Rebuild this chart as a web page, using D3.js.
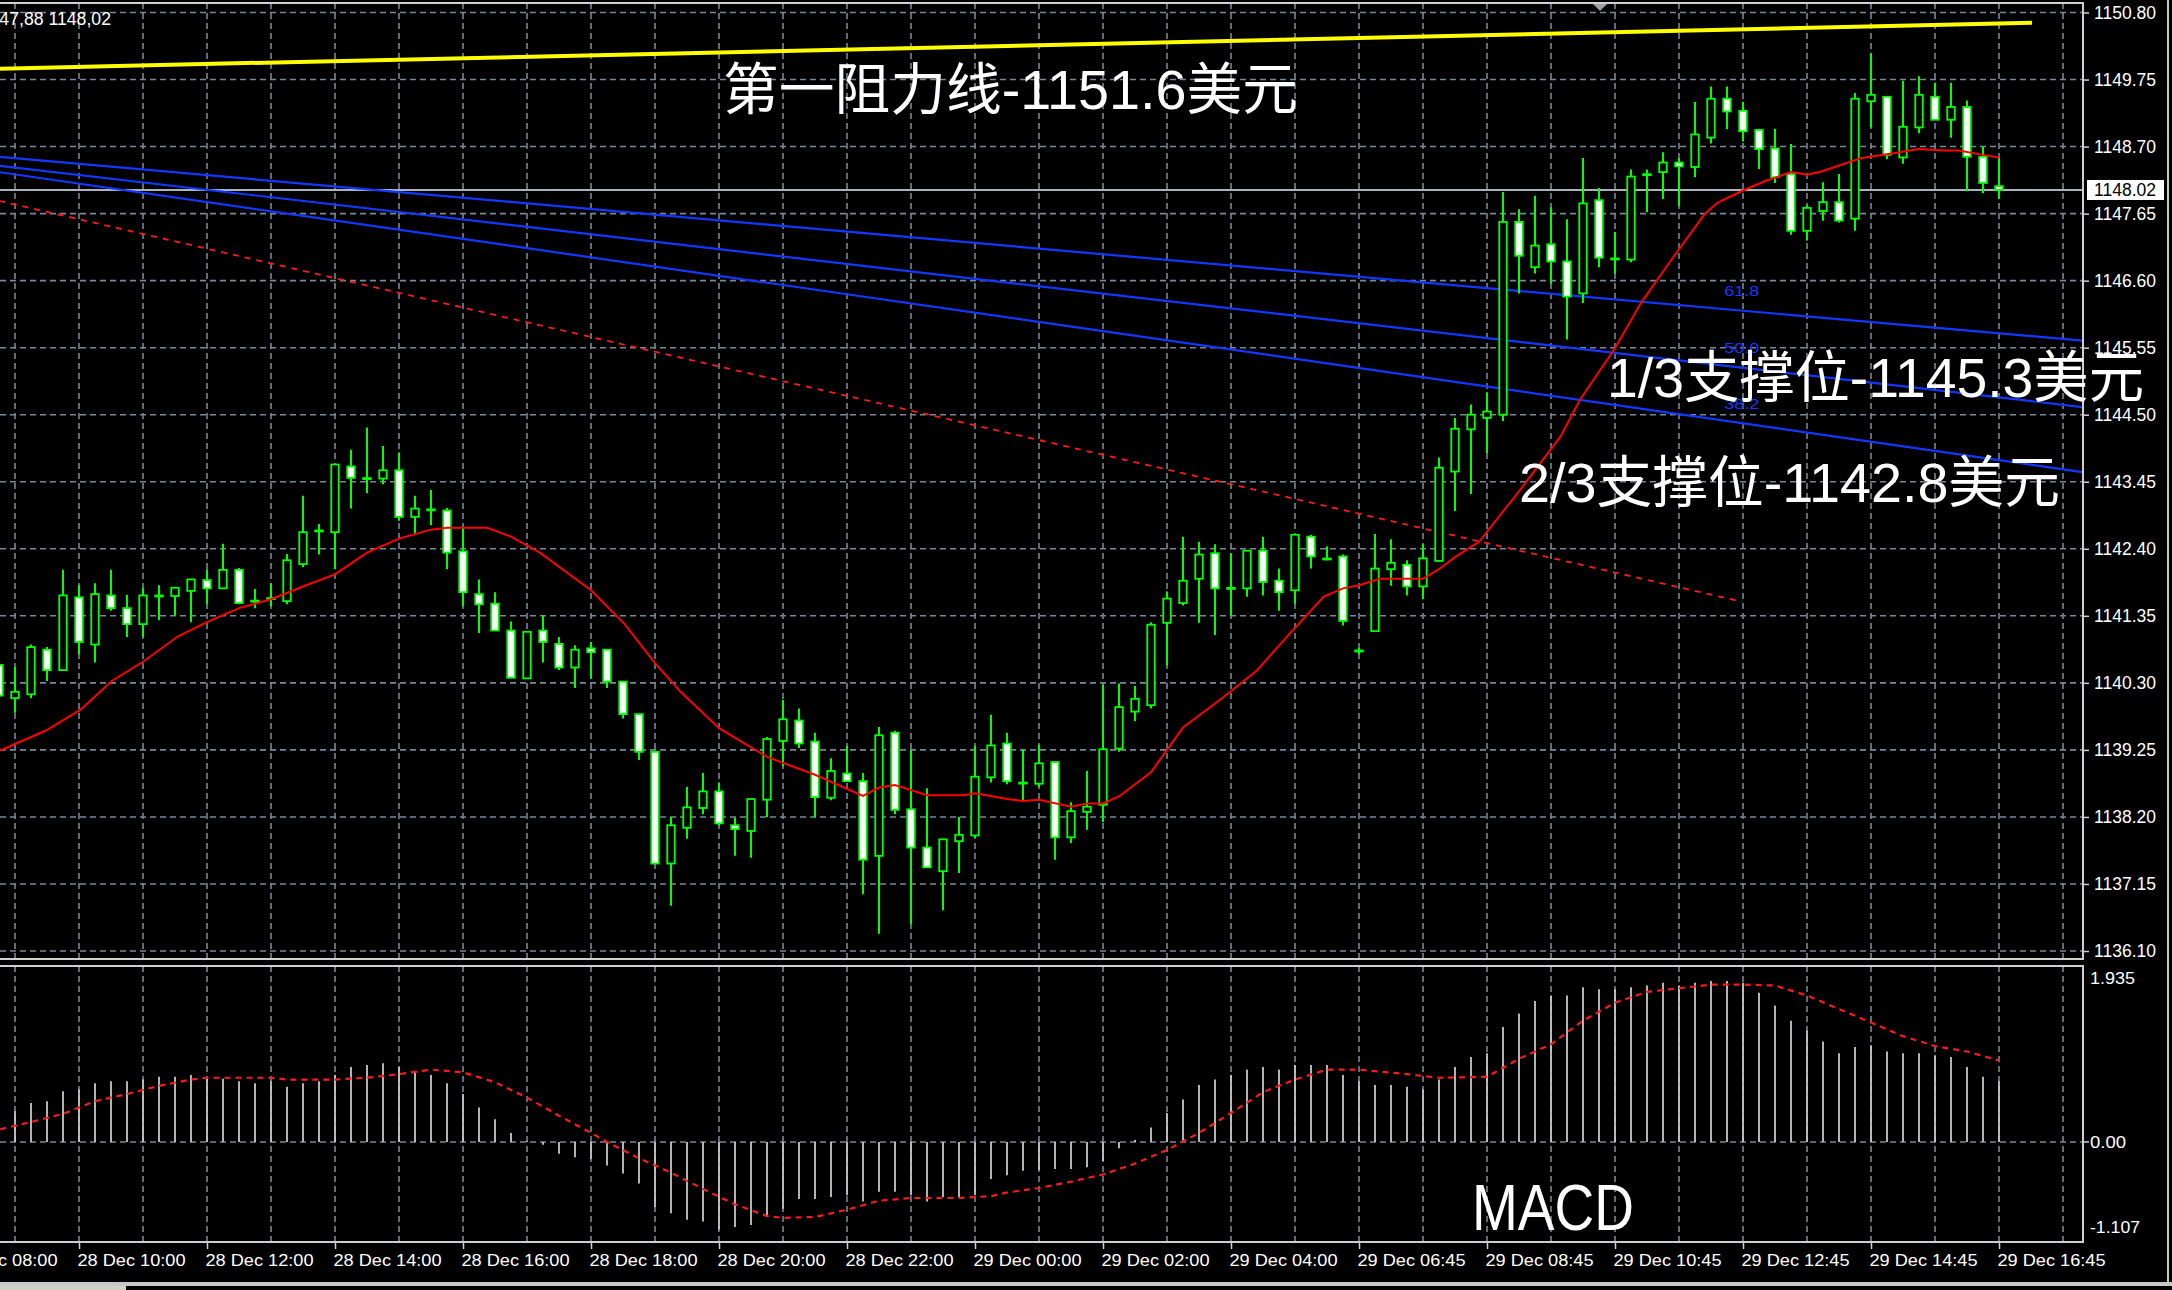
<!DOCTYPE html>
<html><head><meta charset="utf-8">
<script src="https://cdn.jsdelivr.net/npm/d3@7"></script>
<style>
html,body{margin:0;padding:0;background:#000;overflow:hidden;}
svg{display:block;}
</style></head><body>
<svg id="c" width="2172" height="1290"></svg>
<script>
// ---------- DATA ----------
const opens=[1140.58,1140.06,1140.12,1140.82,1140.50,1141.64,1140.90,1141.67,1141.47,1141.22,
1141.68,1141.66,1141.74,1141.91,1141.78,1142.07,1141.59,1141.63,1141.58,1142.16,
1142.69,1142.66,1143.69,1143.51,1143.50,1143.63,1142.90,1143.03,1143.00,1142.36,
1141.69,1141.54,1141.12,1140.37,1141.12,1140.91,1140.54,1140.84,1140.82,1140.32,
1139.81,1139.22,1137.47,1138.03,1138.34,1138.60,1138.07,1137.98,1138.47,1139.39,
1139.71,1139.38,1138.50,1138.88,1138.76,1137.59,1139.52,1138.32,1137.72,1137.35,
1137.82,1137.91,1138.82,1139.35,1138.74,1138.72,1139.06,1137.88,1138.28,1138.39,
1139.27,1139.85,1139.95,1141.24,1141.55,1141.93,1142.33,1141.77,1141.78,1142.37,
1141.90,1141.75,1142.59,1142.24,1142.28,1140.80,1141.11,1142.08,1142.15,1141.81,
1142.21,1143.61,1144.27,1144.45,1144.50,1147.52,1146.81,1147.17,1146.90,1146.40,
1147.86,1146.94,1146.93,1148.26,1148.30,1148.45,1148.38,1148.84,1149.45,1149.26,
1148.96,1148.67,1148.27,1147.38,1147.69,1147.83,1147.57,1149.41,1149.48,1148.53,
1149.00,1149.48,1149.12,1149.32,1148.54,1148.08];
const highs=[1140.62,1140.55,1140.90,1140.86,1142.07,1141.83,1141.86,1142.07,1141.68,1141.78,
1141.83,1141.79,1141.92,1142.08,1142.48,1142.10,1141.77,1141.86,1142.32,1143.23,
1142.79,1143.72,1143.95,1144.30,1144.01,1143.91,1143.23,1143.32,1143.04,1142.75,
1141.92,1141.72,1141.26,1141.10,1141.36,1141.02,1140.89,1140.94,1140.82,1140.32,
1139.81,1139.22,1138.20,1138.67,1138.89,1138.74,1138.19,1138.48,1139.45,1140.03,
1139.90,1139.52,1139.12,1139.31,1138.89,1139.61,1139.55,1139.25,1138.65,1137.85,
1138.20,1139.31,1139.80,1139.52,1139.26,1139.33,1139.06,1138.43,1138.92,1140.27,
1140.29,1140.25,1141.25,1141.73,1142.59,1142.51,1142.47,1142.33,1142.37,1142.59,
1142.09,1142.62,1142.62,1142.44,1142.31,1140.85,1142.63,1142.55,1142.22,1142.47,
1143.83,1144.45,1144.66,1144.85,1147.99,1147.72,1147.93,1147.75,1147.56,1148.52,
1148.05,1147.36,1148.34,1148.34,1148.61,1148.52,1149.40,1149.64,1149.64,1149.40,
1148.98,1148.98,1148.74,1147.78,1148.14,1148.27,1149.54,1150.16,1149.48,1149.73,
1149.80,1149.70,1149.70,1149.42,1148.70,1148.53];
const lows=[1139.38,1139.83,1140.06,1140.33,1140.50,1140.75,1140.62,1141.43,1141.02,1141.02,
1141.28,1141.36,1141.25,1141.53,1141.78,1141.53,1141.47,1141.50,1141.53,1142.11,
1142.31,1142.08,1143.03,1143.27,1143.41,1142.84,1142.64,1142.77,1142.08,1141.50,
1141.08,1141.12,1140.38,1140.37,1140.62,1140.50,1140.22,1140.37,1140.22,1139.74,
1139.09,1137.46,1136.81,1137.86,1138.24,1138.06,1137.59,1137.56,1138.20,1138.99,
1139.28,1138.19,1138.46,1138.76,1136.99,1136.37,1138.24,1136.52,1137.41,1136.74,
1137.32,1137.87,1138.74,1138.71,1138.44,1138.67,1137.53,1137.79,1138.00,1138.12,
1139.22,1139.70,1139.90,1140.57,1141.51,1141.24,1141.05,1141.35,1141.65,1141.67,
1141.43,1141.54,1142.09,1142.22,1141.20,1140.75,1141.11,1141.82,1141.67,1141.61,
1142.21,1142.99,1143.26,1143.90,1144.40,1146.40,1146.71,1146.55,1145.68,1146.25,
1146.81,1146.71,1146.89,1147.67,1147.88,1147.77,1148.22,1148.75,1148.97,1148.78,
1148.35,1148.13,1147.32,1147.23,1147.54,1147.51,1147.38,1149.00,1148.50,1148.43,
1148.91,1149.12,1148.84,1148.00,1147.97,1147.88];
const closes=[1140.10,1140.16,1140.86,1140.50,1141.67,1140.94,1141.69,1141.47,1141.22,1141.67,
1141.66,1141.79,1141.92,1141.78,1142.07,1141.55,1141.58,1141.62,1142.22,1142.66,
1142.68,1143.72,1143.51,1143.50,1143.63,1142.90,1143.03,1143.01,1142.34,1141.72,
1141.53,1141.12,1140.38,1141.10,1140.94,1140.54,1140.82,1140.78,1140.32,1139.81,
1139.22,1137.47,1138.07,1138.35,1138.60,1138.10,1138.01,1138.48,1139.42,1139.73,
1139.35,1138.51,1138.92,1138.76,1137.53,1139.48,1138.31,1137.72,1137.41,1137.85,
1137.92,1138.83,1139.32,1138.76,1138.73,1139.04,1137.88,1138.29,1138.36,1139.26,
1139.92,1140.05,1141.21,1141.62,1141.90,1142.31,1141.78,1141.78,1142.37,1141.88,
1141.72,1142.62,1142.28,1142.24,1141.27,1140.80,1142.09,1142.18,1141.81,1142.25,
1143.67,1144.28,1144.50,1144.55,1147.52,1146.99,1147.15,1146.90,1146.35,1147.81,
1146.96,1146.94,1148.23,1148.26,1148.45,1148.39,1148.89,1149.45,1149.25,1148.94,
1148.66,1148.22,1147.38,1147.74,1147.83,1147.54,1149.45,1149.51,1148.57,1149.01,
1149.51,1149.12,1149.32,1148.54,1148.13,1148.02];

// moving average readings (candle index, price)
const maIdx=[0.08,2.9,5.1,7.05,9,11.2,13,15,17,19,21,23,25,27,28,30.5,32,33.8,37,39.1,41,42.6,45,48,51,54,55,56,58,60.3,61,63,64,65,67,68,69,70,72,74,76.5,78.6,80.7,82.8,84,85,86.3,89,90,91,92.5,95,97.6,98.8,101,102.6,104.5,106.6,107.4,108.9,110.4,112,113,113.9,115.2,116.4,118,120,121.5,122.5,124,125];
const maVal=[1139.24,1139.55,1139.88,1140.33,1140.63,1141.03,1141.25,1141.47,1141.61,1141.81,1142.00,1142.34,1142.56,1142.70,1142.73,1142.73,1142.59,1142.34,1141.75,1141.22,1140.61,1140.16,1139.59,1139.14,1138.86,1138.53,1138.66,1138.70,1138.54,1138.54,1138.57,1138.48,1138.45,1138.47,1138.36,1138.41,1138.41,1138.52,1138.90,1139.60,1140.07,1140.49,1141.08,1141.65,1141.78,1141.83,1141.93,1141.93,1142.08,1142.27,1142.51,1143.30,1144.16,1144.73,1145.54,1146.24,1146.92,1147.64,1147.82,1148.00,1148.16,1148.30,1148.26,1148.31,1148.42,1148.52,1148.58,1148.66,1148.64,1148.64,1148.57,1148.53];

// MACD histogram (one per candle)
const macdHist=[0.32,0.34,0.43,0.45,0.56,0.58,0.65,0.67,0.67,0.69,
0.72,0.72,0.74,0.70,0.70,0.67,0.65,0.67,0.61,0.65,
0.67,0.74,0.83,0.85,0.87,0.83,0.78,0.74,0.65,0.53,
0.38,0.25,0.10,0.01,-0.03,-0.13,-0.17,-0.19,-0.26,-0.35,
-0.46,-0.72,-0.79,-0.86,-0.88,-0.97,-0.94,-0.92,-0.83,-0.74,
-0.63,-0.63,-0.61,-0.59,-0.66,-0.55,-0.55,-0.59,-0.66,-0.61,
-0.61,-0.59,-0.41,-0.37,-0.32,-0.31,-0.30,-0.30,-0.28,-0.21,
-0.07,0.02,0.16,0.32,0.47,0.63,0.69,0.74,0.80,0.83,
0.80,0.85,0.85,0.85,0.74,0.67,0.63,0.63,0.61,0.58,
0.69,0.83,0.94,0.98,1.27,1.42,1.56,1.62,1.62,1.71,
1.69,1.69,1.71,1.73,1.76,1.73,1.76,1.78,1.78,1.76,
1.65,1.51,1.34,1.23,1.11,0.98,1.05,1.07,1.00,0.98,
0.98,0.96,0.94,0.83,0.72,0.67];
// MACD signal readings
const sigIdx=[0.08,2,4,6,8,10,12,13,17,18,21,23,25,27,29,31,33,35,37,38,40,42,44,46,48,49,51,53,55,57,60,62,63,65,67,69,71,73,75,77,79,81,83,85,88,90,93,95,97,99,101,103,105,107,109,111,113,115,117,119,121,123,125];
const sigVal=[0.14,0.22,0.31,0.45,0.53,0.62,0.69,0.71,0.71,0.69,0.69,0.71,0.75,0.80,0.77,0.66,0.49,0.29,0.10,0.00,-0.18,-0.34,-0.52,-0.69,-0.82,-0.84,-0.83,-0.75,-0.65,-0.62,-0.62,-0.60,-0.56,-0.51,-0.44,-0.36,-0.24,-0.09,0.10,0.32,0.55,0.69,0.80,0.80,0.75,0.71,0.72,0.92,1.08,1.34,1.54,1.66,1.70,1.74,1.74,1.73,1.62,1.47,1.32,1.17,1.06,1.00,0.90];

// axis tick labels
const priceTicks=[1136.10,1137.15,1138.20,1139.25,1140.30,1141.35,1142.40,1143.45,1144.50,1145.55,1146.60,1147.65,1148.70,1149.75,1150.80];
const macdTicks=[1.935,0,-1.107];
const macdTickText=["1.935","0.00","-1.107"];
const timeIdx=[-3,5,13,21,29,37,45,53,61,69,77,85,93,101,109,117,125];
const timeText=["28 Dec 08:00","28 Dec 10:00","28 Dec 12:00","28 Dec 14:00","28 Dec 16:00","28 Dec 18:00","28 Dec 20:00","28 Dec 22:00","29 Dec 00:00","29 Dec 02:00","29 Dec 04:00","29 Dec 06:45","29 Dec 08:45","29 Dec 10:45","29 Dec 12:45","29 Dec 14:45","29 Dec 16:45"];

// drawn objects (index, price)
const fibLevels=["61.8","50.0","38.2"];
const fibStartIdx=[0,0,0], fibStartP=[1148.54,1148.40,1148.30];
const fibEndIdx=[130.2,130.2,130.2], fibEndP=[1145.66,1144.62,1143.60];
const trendIdx=[0,108.94], trendP=[1147.85,1141.57];
const resIdx=[0,127.06], resP=[1149.92,1150.64];
const headerText="1147,88 1148,02";
const annTexts=["第一阻力线-1151.6美元","1/3支撑位-1145.3美元","2/3支撑位-1142.8美元"];

// ---------- LAYOUT ----------
const svg=d3.select('#c');
const PR=2083, MT=3, MB=959, CT=966, CB=1242;
const x=d3.scaleLinear().domain([0,125]).range([-1,1999]);
const y=d3.scaleLinear().domain([1136.10,1150.80]).range([951,12.5]);
const m=d3.scaleLinear().domain([-1.107,1.935]).range([1242,967]);
const GRID='#778899', GREEN='#00ff00';

const defs=svg.append('defs');
defs.append('clipPath').attr('id','mc').append('rect').attr('x',0).attr('y',MT+1).attr('width',PR).attr('height',MB-MT-1);
defs.append('clipPath').attr('id','cc').append('rect').attr('x',0).attr('y',CT+1).attr('width',PR).attr('height',CB-CT-1);

svg.append('rect').attr('width',2172).attr('height',1290).attr('fill','#000');

const main=svg.append('g').attr('clip-path','url(#mc)');
const macdG=svg.append('g').attr('clip-path','url(#cc)');

// grid
const gridIdx=d3.range(1,131,4);
main.selectAll('.vg').data(gridIdx).join('line')
  .attr('x1',d=>x(d)).attr('x2',d=>x(d)).attr('y1',MT).attr('y2',MB)
  .attr('stroke',GRID).attr('stroke-width',1.6).attr('stroke-dasharray','6,4');
main.selectAll('.hg').data(priceTicks).join('line')
  .attr('x1',0).attr('x2',PR).attr('y1',d=>y(d)).attr('y2',d=>y(d))
  .attr('stroke',GRID).attr('stroke-width',1.6).attr('stroke-dasharray','6,4');
macdG.selectAll('.vg').data(gridIdx).join('line')
  .attr('x1',d=>x(d)).attr('x2',d=>x(d)).attr('y1',CT).attr('y2',CB)
  .attr('stroke',GRID).attr('stroke-width',1.6).attr('stroke-dasharray','6,4');
macdG.append('line').attr('x1',0).attr('x2',PR).attr('y1',m(0)).attr('y2',m(0))
  .attr('stroke',GRID).attr('stroke-width',1.6).attr('stroke-dasharray','6,4');

// current price line
main.append('line').attr('x1',0).attr('x2',PR).attr('y1',y(closes[125])).attr('y2',y(closes[125]))
  .attr('stroke','#aab4be').attr('stroke-width',2);

// fib fan lines
fibLevels.forEach((lv,k)=>{
  main.append('line').attr('x1',x(fibStartIdx[k])).attr('y1',y(fibStartP[k]))
    .attr('x2',x(fibEndIdx[k])).attr('y2',y(fibEndP[k]))
    .attr('stroke','#1238ff').attr('stroke-width',2.2);
  const li=108.7;
  const pAt=fibStartP[k]+(fibEndP[k]-fibStartP[k])*(li-fibStartIdx[k])/(fibEndIdx[k]-fibStartIdx[k]);
  main.append('text').attr('x',x(li)-14).attr('y',y(pAt)-14)
    .attr('fill','#1238ff').attr('font-family','Liberation Sans, Arial, sans-serif')
    .attr('font-size',15).attr('textLength',35).attr('lengthAdjust','spacingAndGlyphs').text(lv);
});

// red dashed trend line
main.append('line').attr('x1',x(trendIdx[0])).attr('y1',y(trendP[0]))
  .attr('x2',x(trendIdx[1])).attr('y2',y(trendP[1]))
  .attr('stroke','#ff1a1a').attr('stroke-width',1.8).attr('stroke-dasharray','6,6');

// yellow resistance line
main.append('line').attr('x1',x(resIdx[0])).attr('y1',y(resP[0]))
  .attr('x2',x(resIdx[1])).attr('y2',y(resP[1]))
  .attr('stroke','#ffff00').attr('stroke-width',4);

// candles
const idx=d3.range(opens.length);
const cg=main.append('g');
cg.selectAll('.wick').data(idx).join('line')
  .attr('x1',i=>x(i)).attr('x2',i=>x(i)).attr('y1',i=>y(highs[i])).attr('y2',i=>y(lows[i]))
  .attr('stroke',GREEN).attr('stroke-width',2);
const doji=idx.filter(i=>Math.abs(opens[i]-closes[i])<0.025);
const bodies=idx.filter(i=>Math.abs(opens[i]-closes[i])>=0.025);
cg.selectAll('.body').data(bodies).join('rect')
  .attr('x',i=>x(i)-3.75).attr('width',7.5)
  .attr('y',i=>y(Math.max(opens[i],closes[i])))
  .attr('height',i=>Math.max(1,Math.abs(y(opens[i])-y(closes[i]))))
  .attr('fill',i=>closes[i]>opens[i]?'#000':'#fff')
  .attr('stroke',GREEN).attr('stroke-width',1.8);
cg.selectAll('.doji').data(doji).join('line')
  .attr('x1',i=>x(i)-4.7).attr('x2',i=>x(i)+4.7)
  .attr('y1',i=>y(closes[i])).attr('y2',i=>y(closes[i]))
  .attr('stroke',GREEN).attr('stroke-width',2.8);

// moving average
main.append('path').datum(maIdx.map((d,k)=>[d,maVal[k]]))
  .attr('d',d3.line().x(d=>x(d[0])).y(d=>y(d[1])))
  .attr('fill','none').attr('stroke','#ff0000').attr('stroke-width',2);

// MACD
macdG.selectAll('.bar').data(idx).join('line')
  .attr('x1',i=>x(i)).attr('x2',i=>x(i)).attr('y1',m(0)).attr('y2',i=>m(macdHist[i]))
  .attr('stroke','#c8c8c8').attr('stroke-width',1.8);
macdG.append('path').datum(sigIdx.map((d,k)=>[d,sigVal[k]]))
  .attr('d',d3.line().x(d=>x(d[0])).y(d=>m(d[1])))
  .attr('fill','none').attr('stroke','#ff1a1a').attr('stroke-width',2.2).attr('stroke-dasharray','6,5');

// frames
const FR='#cfcfcf';
const fr=svg.append('g').attr('stroke',FR).attr('stroke-width',2).attr('fill','none');
fr.append('path').attr('d',`M0,${MT}H${PR}V${MB}H0`);
fr.append('path').attr('d',`M0,${CT}H${PR}V${CB}H0`);

// right price axis
const ya=svg.append('g').attr('transform',`translate(${PR},0)`)
  .call(d3.axisRight(y).tickValues(priceTicks).tickFormat(d3.format('.2f')).tickSize(6).tickPadding(5));
ya.select('.domain').remove();
ya.selectAll('.tick line').attr('stroke',FR).attr('stroke-width',1.5);
ya.selectAll('.tick text').attr('fill','#fff').attr('font-family','Liberation Sans, Arial, sans-serif')
  .attr('font-size',18).attr('textLength',62).attr('lengthAdjust','spacingAndGlyphs');

// current price box
const cy=y(closes[125]);
svg.append('rect').attr('x',2087).attr('y',cy-10).attr('width',77).attr('height',20).attr('fill','#fff');
svg.append('text').attr('x',2094).attr('y',cy).attr('dy','0.36em').attr('fill','#000')
  .attr('font-family','Liberation Sans, Arial, sans-serif').attr('font-size',18)
  .attr('textLength',62).attr('lengthAdjust','spacingAndGlyphs').text(d3.format('.2f')(closes[125]));

// MACD axis labels
const ma=svg.append('g');
macdTicks.forEach((v,k)=>{
  let ty=m(v); if(k===0) ty+=11; if(k===2) ty-=15;
  ma.append('text').attr('x',2090).attr('y',ty).attr('dy','0.36em').attr('fill','#fff')
    .attr('font-family','Liberation Sans, Arial, sans-serif').attr('font-size',17)
    .attr('textLength',k===2?50:(k===0?45:36)).attr('lengthAdjust','spacingAndGlyphs').text(macdTickText[k]);
});
ma.append('line').attr('x1',PR).attr('x2',PR+6).attr('y1',m(0)).attr('y2',m(0)).attr('stroke',FR).attr('stroke-width',1.5);

// time axis
const xa=svg.append('g').attr('transform',`translate(0,${CB})`)
  .call(d3.axisBottom(x).tickValues(timeIdx).tickFormat((d,k)=>timeText[k]).tickSize(7));
xa.select('.domain').remove();
xa.selectAll('.tick line').attr('stroke',FR).attr('stroke-width',1.5);
xa.selectAll('.tick text').attr('fill','#fff').attr('text-anchor','start').attr('x',-2).attr('y',13)
  .attr('font-family','Liberation Sans, Arial, sans-serif').attr('font-size',16)
  .attr('textLength',108).attr('lengthAdjust','spacingAndGlyphs');

// header text (clipped at left)
svg.append('text').attr('x',-19).attr('y',19).attr('dy','0.36em').attr('fill','#fff')
  .attr('font-family','Liberation Sans, Arial, sans-serif').attr('font-size',18)
  .attr('textLength',130).attr('lengthAdjust','spacingAndGlyphs').text(headerText);

// chart-shift marker
svg.append('path').attr('d','M1593,4L1607,4L1600,11Z').attr('fill','#9aa0a6');

// annotations
const AF="'Liberation Sans','Noto Sans CJK SC',sans-serif";
const annPos=[[45.25,1149.29],[100.5,1144.78],[95.0,1143.13]];
const annW=[575,537,541];
annTexts.forEach((t,k)=>{
  svg.append('text').attr('x',x(annPos[k][0])).attr('y',y(annPos[k][1]))
    .attr('fill','#fff').attr('font-family',AF).attr('font-size',56)
    .attr('textLength',annW[k]).attr('lengthAdjust','spacingAndGlyphs').text(t);
});
svg.append('text').attr('x',x(92.06)).attr('y',m(-0.97)).attr('fill','#fff')
  .attr('font-family','Liberation Sans, Arial, sans-serif').attr('font-size',64)
  .attr('textLength',162).attr('lengthAdjust','spacingAndGlyphs').text('MACD');

// window edges
svg.append('rect').attr('x',0).attr('y',1282).attr('width',2172).attr('height',4).attr('fill','#c8c8c8');
svg.append('rect').attr('x',0).attr('y',1286).attr('width',126).attr('height',4).attr('fill','#d4d0c8');
svg.append('rect').attr('x',2167).attr('y',0).attr('width',2).attr('height',1286).attr('fill','#c8c8c8');
</script></body></html>
